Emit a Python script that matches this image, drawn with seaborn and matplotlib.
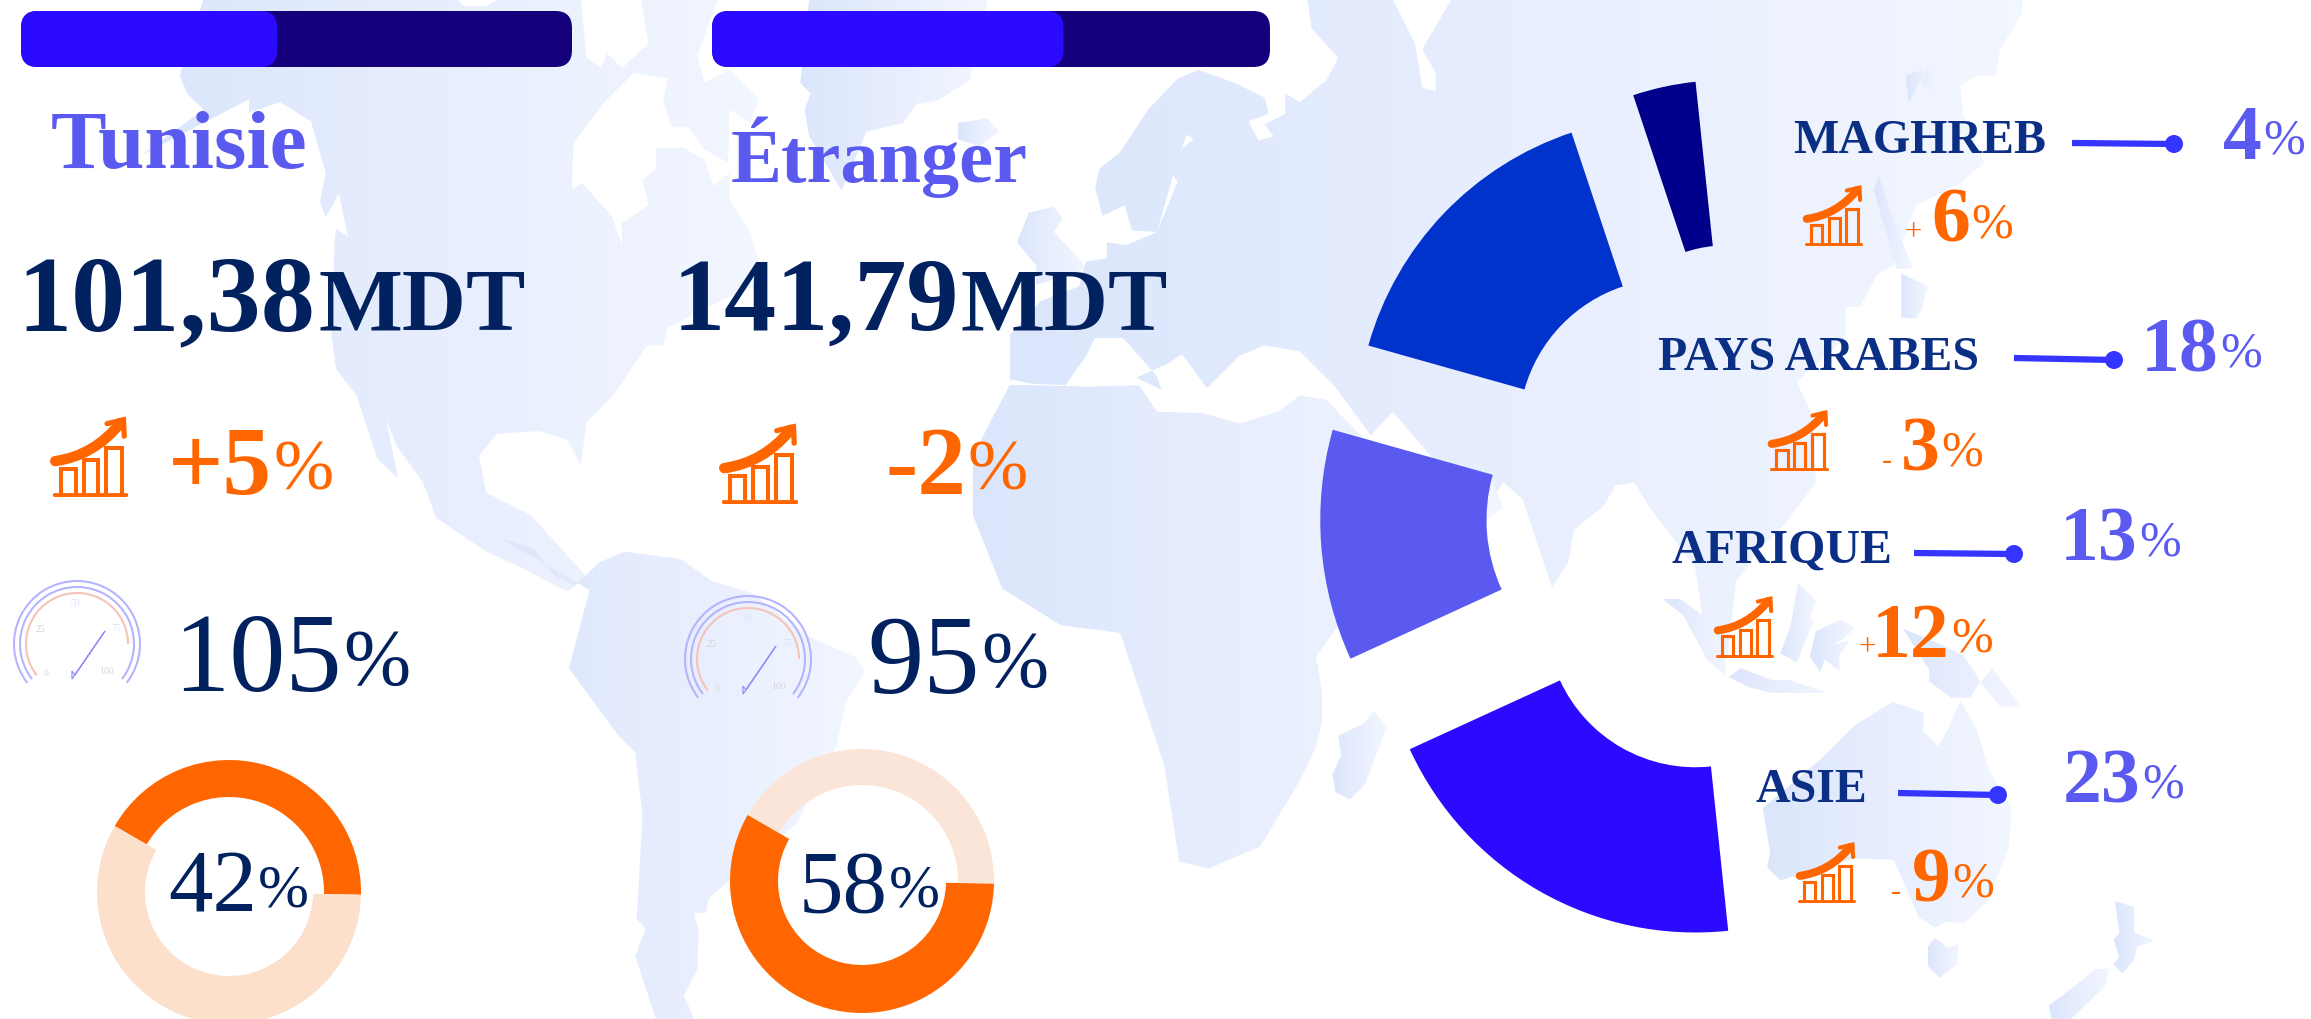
import numpy as np
import pandas as pd
import matplotlib
matplotlib.use('Agg')
import matplotlib.pyplot as plt
from matplotlib.patches import FancyBboxPatch, Polygon, Arc, PathPatch, Circle
from matplotlib.path import Path
from matplotlib.colors import LinearSegmentedColormap
import seaborn as sns

W, H = 2311, 1020

# values
progress_values = [46.5, 63]
share_tunisie = [42, 58]      # orange, light
share_etranger = [42, 58]     # light, orange
regions = ['MAGHREB', 'PAYS ARABES', 'AFRIQUE', 'ASIE']
region_values = [4, 18, 13, 23]
region_labels = ['4', '18', '13', '23']
region_signs = ['+', '-', '+', '-']
region_trends = ['6', '3', '12', '9']

NAVY = '#02215F'
PURPLE = '#5A5AF0'
ORANGE = '#FF6600'
BLUE = '#2B0AFF'
DARK = '#14007A'
REGION_NAVY = '#0A2F85'
LINE_BLUE = '#3535FF'
region_colors = ['#00008B', '#0033CC', '#5A5AF0', '#2B0AFF']

sns.set_theme(style='white')
plt.rcParams['font.family'] = ['Liberation Serif', 'DejaVu Serif']

# background map, rough outlines in the 1568x692 frame
north_america = [(138,0),(122,52),(127,64),(138,75),(96,106),(169,68),(169,77),(190,70),(211,83),(221,118),
    (217,138),(221,148),(230,132),(236,161),(228,156),(227,165),(225,229),(228,251),(242,269),(256,312),
    (270,325),(262,285),(269,303),(287,328),(296,352),(330,375),(352,385),(385,402),(398,392),(380,372),
    (360,350),(330,335),(325,310),(337,295),(366,293),(385,299),(394,316),(398,287),(416,269),(439,235),
    (450,235),(453,223),(490,204),(512,195),(515,179),(509,158),(495,136),(495,118),(484,127),(478,109),
    (464,101),(445,101),(445,115),(436,123),(440,140),(422,152),(422,167),(415,147),(395,125),(388,129),
    (389,98),(410,70),(430,50),(453,54),(450,69),(453,78),(456,87),(467,87),(478,102),(494,111),(495,75),
    (509,84),(515,68),(495,48),(478,57),(473,38),(478,25),(487,0),(435,0),(440,30),(422,47),(412,37),
    (408,47),(398,40),(394,0),(338,0),(330,5),(315,5),(310,0)]
greenland = [(549,0),(543,57),(550,64),(546,75),(549,93),(571,130),(588,90),(613,84),(622,71),(636,69),(658,55),(670,0)]
iceland = [(650,84),(670,81),(678,90),(664,100),(650,95)]
uk = [(698,145),(715,141),(721,149),(715,158),(732,176),(737,183),(703,194),(703,181),(690,165)]
eurasia = [(799,54),(813,48),(838,57),(858,67),(861,78),(847,83),(854,96),(864,93),(858,85),(872,78),(872,64),
    (882,70),(900,55),(908,40),(890,20),(887,0),(945,0),(960,30),(965,60),(974,63),(974,50),(965,34),(985,0),
    (1372,0),(1372,10),(1357,34),(1354,52),(1341,52),(1330,59),(1332,79),(1346,111),(1330,125),(1300,140),
    (1285,180),(1273,188),(1262,209),(1252,209),(1252,230),(1219,260),(1230,283),(1232,328),(1212,355),
    (1195,372),(1178,395),(1172,445),(1155,418),(1150,385),(1120,346),(1109,328),(1096,330),(1088,344),
    (1068,360),(1064,382),(1053,399),(1048,384),(1033,339),(1020,328),(1005,350),(975,315),(945,280),(930,296),
    (905,262),(882,239),(858,235),(841,242),(827,256),(819,264),(802,241),(793,247),(771,257),(788,265),
    (785,256),(762,230),(743,230),(737,242),(723,262),(700,261),(685,258),(685,228),(706,205),(732,195),
    (737,178),(751,176),(751,165),(764,167),(785,158),(799,124),(790,111),(810,95),(805,92),(799,109),
    (785,158),(768,157),(763,140),(748,147),(743,128),(746,115),(760,104),(779,75)]
africa = [(700,262),(737,263),(773,262),(785,280),(816,281),(841,288),(867,280),(882,269),(900,272),(925,298),
    (975,315),(1013,328),(1020,345),(985,370),(930,400),(908,425),(893,446),(897,470),(897,490),(893,507),
    (882,530),(855,575),(820,590),(800,585),(790,520),(770,460),(760,430),(720,425),(680,400),(660,350),
    (660,310),(685,262)]
south_america = [(340,366),(362,373),(376,391),(390,398),(407,382),(424,375),(462,380),(483,395),(510,403),
    (548,432),(581,447),(587,456),(574,477),(567,508),(540,560),(481,610),(479,620),(471,620),(474,633),
    (473,658),(464,676),(471,692),(445,692),(431,649),(438,631),(432,624),(436,554),(431,511),(419,499),
    (386,454),(400,401)]
australia = [(1258,493),(1284,477),(1305,484),(1305,497),(1315,507),(1322,495),(1330,476),(1341,495),(1350,524),
    (1365,549),(1363,576),(1348,613),(1332,627),(1320,626),(1313,630),(1302,623),(1285,584),(1258,583),
    (1208,598),(1199,589),(1201,579),(1196,549),(1236,515)]
tasmania = [(1308,643),(1313,637),(1322,644),(1329,641),(1328,655),(1316,664),(1308,656)]
nz_north = [(1435,612),(1448,616),(1448,633),(1462,639),(1450,643),(1448,652),(1440,661),(1434,655),(1438,650),(1434,638),(1438,634)]
nz_south = [(1422,658),(1431,658),(1428,670),(1405,692),(1392,692),(1390,683),(1411,667)]
madagascar = [(932,483),(941,494),(926,533),(916,543),(906,538),(904,526),(910,513),(908,500),(926,491)]
borneo = [(1232,429),(1249,421),(1259,427),(1245,438),(1255,435),(1248,445),(1248,456),(1238,448),(1235,457),(1228,446)]
sumatra = [(1128,407),(1140,407),(1155,418),(1170,440),(1171,459),(1158,448),(1142,418)]
java = [(1173,460),(1181,454),(1202,462),(1214,462),(1241,471),(1203,471),(1187,467)]
new_guinea = [(1291,427),(1309,455),(1309,463),(1324,474),(1337,474),(1341,467),(1352,454),(1371,480),(1357,480),(1345,465),(1332,445),(1310,435)]
philippines = [(1220,396),(1232,408),(1228,421),(1231,421),(1219,450),(1208,444),(1215,425)]
japan = [(1275,120),(1282,143),(1298,183),(1287,183),(1271,129)]
japan_south = [(1290,186),(1308,195),(1304,210),(1300,217),(1290,216)]
sakhalin = [(1315,39),(1313,63),(1304,58),(1304,48),(1293,52),(1295,70),(1306,50)]
map_shapes = [north_america, greenland, iceland, uk, eurasia, africa, south_america, australia, tasmania,
              nz_north, nz_south, madagascar, borneo, sumatra, java, new_guinea, philippines, japan,
              japan_south, sakhalin]


def px_box(x0, y0, x1, y1):
    # pixel box (top-left origin) to figure fractions
    return [x0 / W, 1 - y1 / H, (x1 - x0) / W, (y1 - y0) / H]


fig = plt.figure(figsize=(W / 100, H / 100), dpi=100)
fig.patch.set_facecolor('white')

# map layer
bg = fig.add_axes([0, 0, 1, 1], zorder=0)
bg.axis('off')
map_cmap = LinearSegmentedColormap.from_list('map', ['#DBE6FC', '#E8EEFE', '#F2F6FF'])
for shape in map_shapes:
    pts = np.array(shape, dtype=float)
    x0, x1 = pts[:, 0].min(), pts[:, 0].max()
    y0, y1 = pts[:, 1].min(), pts[:, 1].max()
    im = bg.imshow(np.linspace(0, 1, 64).reshape(1, -1), cmap=map_cmap, aspect='auto',
                   extent=(x0, x1, y1, y0), zorder=1)
    poly = Polygon(pts, closed=True, transform=bg.transData, fc='none', ec='none')
    bg.add_patch(poly)
    im.set_clip_path(poly)
bg.set_xlim(0, 1568)
bg.set_ylim(692, 0)


def progress_bar(x0, y0, x1, y1, value):
    ax = fig.add_axes(px_box(x0, y0, x1, y1), zorder=2)
    sns.barplot(x=[100], y=['all'], color=DARK, width=1, saturation=1, ax=ax, orient='h')
    sns.barplot(x=[value], y=['all'], color=BLUE, width=1, saturation=1, ax=ax, orient='h')
    ax.set_xlim(0, 100)
    ax.set_ylim(0.5, -0.5)
    ax.axis('off')
    px_y = y1 - y0
    for bar in list(ax.patches):
        b = bar.get_bbox()
        c = bar.get_facecolor()
        bar.remove()
        ax.add_patch(FancyBboxPatch((b.x0, min(b.y0, b.y1)), b.width, abs(b.height),
                                    boxstyle='round,pad=0,rounding_size=3', fc=c, ec='none',
                                    mutation_aspect=(17 / px_y) / 3.0, clip_on=False))


progress_bar(21, 12, 572, 68, progress_values[0])
progress_bar(712, 12, 1270, 68, progress_values[1])


def donut(cx, cy, values, colors, inner_px):
    r = 132
    ax = fig.add_axes(px_box(cx - r * 1.05, cy - r * 1.05, cx + r * 1.05, cy + r * 1.05), zorder=2)
    wedges, _ = ax.pie(values, colors=colors, startangle=150, counterclock=False, radius=1,
                       wedgeprops=dict(linewidth=0))
    for w, ip in zip(wedges, inner_px):
        w.set_width(1 - ip / r)
        w.set_clip_on(False)
    ax.set_xlim(-1.05, 1.05)
    ax.set_ylim(-1.05, 1.05)


donut(229, 893, share_tunisie, [ORANGE, '#FDE0CC'], [95, 84])
donut(862, 882, share_etranger, ['#FAE5D8', ORANGE], [96, 84])

# exploded half pie, the hidden slice fills the other half
rad = fig.add_axes(px_box(1756 - 510, 3, 1756 + 510, 1023), zorder=2)
hidden = sum(region_values)
wedges, _ = rad.pie(region_values + [hidden], startangle=96, counterclock=True, radius=1,
                    explode=[0.275, 0.231, 0.202, 0.240, 0],
                    colors=sns.color_palette(region_colors + ['#FFFFFF']),
                    wedgeprops=dict(linewidth=0))
wedges[-1].set_visible(False)
outer = [0.578, 0.616, 0.653, 0.616]
inner = [0.254, 0.298, 0.327, 0.292]
for w, ro, ri in zip(wedges, outer, inner):
    w.set_radius(ro)
    w.set_width(ro - ri)
rad.set_xlim(-1, 1)
rad.set_ylim(-1, 1)

# overlay in pixel coordinates for texts and icons
ov = fig.add_axes([0, 0, 1, 1], zorder=3)
ov.set_xlim(0, W)
ov.set_ylim(H, 0)
ov.axis('off')
ov.patch.set_alpha(0)


def txt(x, y, s, size, color, weight='normal', ha='left'):
    ov.text(x, y, s, fontsize=size, color=color, fontweight=weight, ha=ha, va='baseline')


def pct(split, y, num, size, pct_size, color, weight='bold'):
    ov.text(split, y, num, fontsize=size, color=color, fontweight=weight, ha='right', va='baseline')
    # the % glyph is wider here than in the original font, so it is smaller and lifted a little
    lift = (size - pct_size) * 0.25
    ov.text(split + 1, y - lift, '%', fontsize=pct_size, color=color, ha='left', va='baseline')


def trend_icon(x0, y0, x1, y1):
    sx, sy = x1 - x0, y1 - y0
    P = lambda u, v: (x0 + u * sx, y0 + v * sy)
    lw = sx / 26
    ov.add_patch(FancyBboxPatch(P(0.0, 0.95), sx, 0.05 * sy, boxstyle='round,pad=0,rounding_size=1.5',
                                fc=ORANGE, ec='none'))
    for u0, u1, top in [(0.1, 0.3, 0.64), (0.41, 0.6, 0.53), (0.71, 0.92, 0.37)]:
        ov.plot(*zip(P(u0, 0.95), P(u0, top), P(u1, top), P(u1, 0.95)), color=ORANGE, lw=lw, solid_joinstyle='miter')
    curve = Path([P(0.03, 0.54), P(0.55, 0.47), P(0.9, 0.05)], [Path.MOVETO, Path.CURVE3, Path.CURVE3])
    ov.add_patch(PathPatch(curve, fc='none', ec=ORANGE, lw=lw * 2.6, capstyle='round'))
    ov.plot(*zip(P(0.72, 0.06), P(0.94, 0.01), P(0.95, 0.22)), color=ORANGE, lw=lw * 1.3, solid_joinstyle='miter')


def gauge(dx, dy):
    cx, cy = 77 + dx, 645 + dy
    for d in (126, 114):
        ov.add_patch(Arc((cx, cy), d, d, theta1=142, theta2=398, color='#B4B4FF', lw=1.5))
    ov.add_patch(Arc((cx, cy), 102, 102, theta1=142, theta2=360, color='#F4C4B8', lw=1.5))
    ov.add_patch(Polygon([(72 + dx, 680 + dy), (105 + dx, 632 + dy), (75 + dx, 676 + dy), (72 + dx, 672 + dy)],
                         fc='white', ec='#9090F5', lw=0.9))
    for s, x, y, c in [('0', 46, 676, '#D8D8D8'), ('25', 40, 632, '#D0D0D0'), ('50', 75, 606, '#D6E4F5'),
                       ('75', 116, 631, '#D6E4F5'), ('100', 107, 674, '#D8D8D8')]:
        ov.text(x + dx, y + dy, s, fontsize=7, color=c, ha='center', va='baseline')


# titles
txt(51, 168, 'Tunisie', 60, PURPLE, 'bold')
txt(731, 182, 'Étranger', 55, PURPLE, 'bold')
txt(17, 330, '101,38', 78, NAVY, 'bold')
txt(319, 330, 'MDT', 64, NAVY, 'bold')
txt(673, 330, '141,79', 75, NAVY, 'bold')
txt(960, 330, 'MDT', 64, NAVY, 'bold')

trend_icon(53, 420, 128, 498)
trend_icon(722, 427, 798, 505)
pct(272, 494, '+5', 70, 52, ORANGE)
pct(966, 494, '-2', 70, 52, ORANGE)

gauge(0, 0)
gauge(671, 15)
pct(342, 691, '105', 81, 58, NAVY, 'normal')
pct(980, 693, '95', 81, 58, NAVY, 'normal')
pct(257, 912, '42', 64, 44, NAVY, 'normal')
pct(888, 912, '58', 64, 44, NAVY, 'normal')

# right column, same order as regions
name_x = [1793, 1658, 1672, 1756]
name_y = [153, 370, 563, 802]
line_start = [(2072, 144), (2014, 359), (1914, 554), (1898, 794)]
line_end = [(2174, 145), (2114, 361), (2014, 555), (1998, 796)]
value_split = [2262, 2219, 2138, 2141]
value_y = [159, 372, 561, 803]
sign_x = [1905, 1882, 1859, 1891]
trend_split = [1970, 1940, 1950, 1951]
trend_y = [242, 471, 657, 902]
icons = [(1805, 188, 1863, 247), (1770, 413, 1829, 472), (1716, 599, 1774, 659), (1798, 845, 1856, 904)]

for i, name in enumerate(regions):
    txt(name_x[i], name_y[i], name, 34.5, REGION_NAVY, 'bold')
    (xa, ya), (xb, yb) = line_start[i], line_end[i]
    ov.plot([xa, xb], [ya, yb], color=LINE_BLUE, lw=4.5, solid_capstyle='butt')
    ov.add_patch(Circle((xb, yb), 9, fc=LINE_BLUE, ec='none'))
    pct(value_split[i], value_y[i], region_labels[i], 56, 36, PURPLE)
    trend_icon(*icons[i])
    pct(trend_split[i], trend_y[i], region_trends[i], 56, 36, ORANGE)
    txt(sign_x[i], trend_y[i] - 2, region_signs[i], 22, ORANGE)

fig.savefig('out.png', dpi=100)
plt.close(fig)
